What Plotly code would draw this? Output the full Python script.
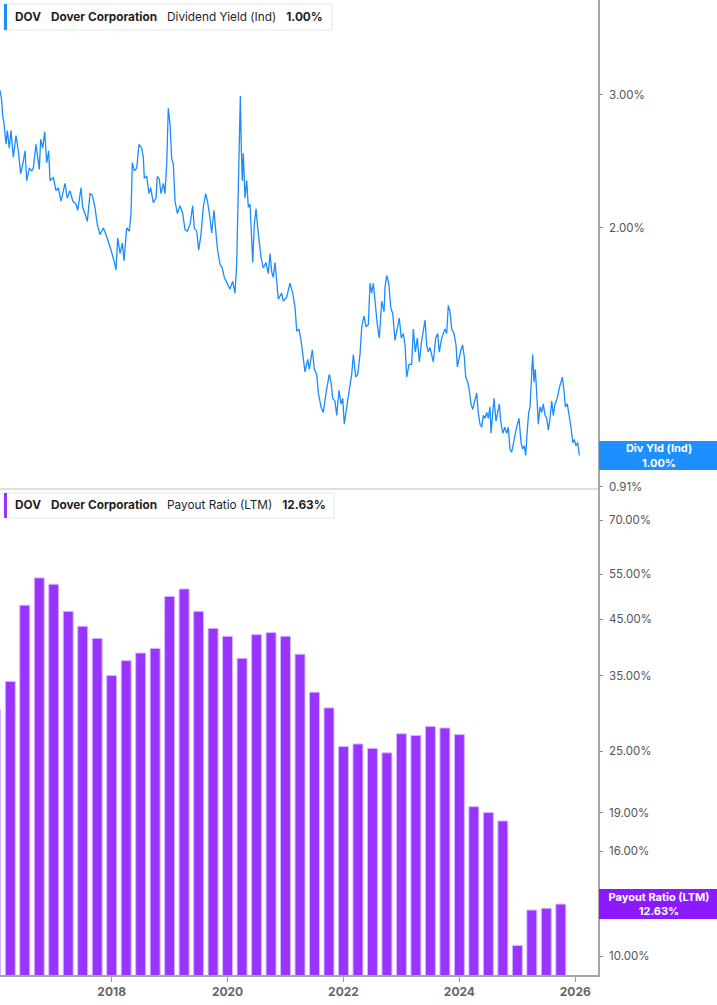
import math
import plotly.graph_objects as go
from plotly.subplots import make_subplots

# Dividend Yield (Ind), %, x in decimal years
yield_t = [
    2016.073, 2016.102, 2016.120, 2016.142, 2016.177, 2016.199, 2016.233, 2016.263, 2016.303, 2016.349,
    2016.389, 2016.430, 2016.475, 2016.504, 2016.534, 2016.579, 2016.620, 2016.648, 2016.694, 2016.717,
    2016.751, 2016.775, 2016.810, 2016.844, 2016.879, 2016.913, 2016.936, 2016.993, 2017.039, 2017.079,
    2017.126, 2017.195, 2017.234, 2017.281, 2017.328, 2017.385, 2017.414, 2017.471, 2017.500, 2017.540,
    2017.580, 2017.626, 2017.666, 2017.712, 2017.752, 2017.799, 2017.856, 2017.902, 2017.942, 2017.988,
    2018.040, 2018.075, 2018.104, 2018.144, 2018.183, 2018.213, 2018.259, 2018.304, 2018.334, 2018.356,
    2018.391, 2018.432, 2018.472, 2018.518, 2018.546, 2018.563, 2018.604, 2018.644, 2018.673, 2018.718,
    2018.765, 2018.787, 2018.822, 2018.851, 2018.891, 2018.920, 2018.950, 2018.977, 2019.006, 2019.036,
    2019.064, 2019.093, 2019.133, 2019.179, 2019.226, 2019.265, 2019.305, 2019.352, 2019.398, 2019.426,
    2019.467, 2019.502, 2019.541, 2019.581, 2019.622, 2019.657, 2019.697, 2019.726, 2019.766, 2019.795,
    2019.823, 2019.869, 2019.909, 2019.944, 2019.995, 2020.042, 2020.089, 2020.128, 2020.157, 2020.185,
    2020.209, 2020.220, 2020.237, 2020.254, 2020.271, 2020.301, 2020.330, 2020.358, 2020.387, 2020.404,
    2020.434, 2020.461, 2020.491, 2020.520, 2020.547, 2020.577, 2020.617, 2020.663, 2020.703, 2020.732,
    2020.762, 2020.789, 2020.819, 2020.848, 2020.875, 2020.934, 2020.962, 2021.020, 2021.077, 2021.124,
    2021.164, 2021.193, 2021.233, 2021.267, 2021.307, 2021.336, 2021.383, 2021.410, 2021.462, 2021.497,
    2021.538, 2021.566, 2021.612, 2021.652, 2021.699, 2021.755, 2021.785, 2021.814, 2021.854, 2021.883,
    2021.923, 2021.957, 2021.987, 2022.014, 2022.056, 2022.101, 2022.142, 2022.170, 2022.211, 2022.246,
    2022.285, 2022.315, 2022.354, 2022.389, 2022.429, 2022.458, 2022.487, 2022.515, 2022.544, 2022.584,
    2022.618, 2022.660, 2022.700, 2022.717, 2022.746, 2022.781, 2022.815, 2022.850, 2022.889, 2022.929,
    2022.963, 2022.998, 2023.033, 2023.062, 2023.091, 2023.131, 2023.177, 2023.205, 2023.240, 2023.274,
    2023.309, 2023.350, 2023.378, 2023.407, 2023.436, 2023.464, 2023.493, 2023.522, 2023.550, 2023.592,
    2023.626, 2023.653, 2023.695, 2023.723, 2023.752, 2023.781, 2023.809, 2023.838, 2023.868, 2023.907,
    2023.942, 2023.964, 2023.999, 2024.028, 2024.057, 2024.085, 2024.109, 2024.144, 2024.171, 2024.201,
    2024.230, 2024.257, 2024.299, 2024.326, 2024.356, 2024.385, 2024.413, 2024.442, 2024.471, 2024.499,
    2024.528, 2024.546, 2024.575, 2024.597, 2024.632, 2024.654, 2024.689, 2024.713, 2024.748, 2024.782,
    2024.817, 2024.844, 2024.873, 2024.903, 2024.931, 2024.965, 2024.989, 2025.029, 2025.064, 2025.093,
    2025.120, 2025.144, 2025.172, 2025.196, 2025.219, 2025.241, 2025.265, 2025.288, 2025.310, 2025.334,
    2025.362, 2025.391, 2025.421, 2025.448, 2025.478, 2025.507, 2025.535, 2025.564, 2025.593, 2025.621,
    2025.650, 2025.690, 2025.724, 2025.754, 2025.776, 2025.805, 2025.828, 2025.862, 2025.897, 2025.926,
    2025.956, 2025.983, 2026.013, 2026.042, 2026.070,
]
yield_pct = [
    3.04, 2.95, 2.81, 2.75, 2.58, 2.69, 2.55, 2.69, 2.48, 2.65,
    2.53, 2.36, 2.45, 2.53, 2.31, 2.40, 2.38, 2.40, 2.58, 2.48,
    2.39, 2.62, 2.55, 2.68, 2.44, 2.53, 2.31, 2.33, 2.24, 2.26,
    2.17, 2.29, 2.19, 2.24, 2.17, 2.15, 2.11, 2.26, 2.13, 2.09,
    2.04, 2.22, 2.21, 2.13, 2.02, 1.96, 2.00, 1.96, 1.92, 1.87,
    1.81, 1.76, 1.94, 1.85, 1.91, 1.81, 2.00, 1.98, 2.09, 2.44,
    2.38, 2.40, 2.58, 2.55, 2.48, 2.33, 2.34, 2.22, 2.26, 2.16,
    2.19, 2.34, 2.32, 2.22, 2.29, 2.22, 2.43, 2.88, 2.75, 2.47,
    2.43, 2.17, 2.09, 2.14, 2.09, 1.99, 1.98, 2.02, 2.14, 2.00,
    1.98, 1.87, 1.96, 2.13, 2.22, 2.16, 2.06, 1.97, 2.11, 1.96,
    1.88, 1.79, 1.77, 1.72, 1.69, 1.66, 1.70, 1.64, 1.79, 2.26,
    2.80, 2.99, 2.55, 2.31, 2.51, 2.19, 2.31, 2.13, 2.15, 2.03,
    1.80, 2.02, 2.12, 2.00, 1.91, 1.83, 1.77, 1.80, 1.74, 1.85,
    1.75, 1.72, 1.80, 1.69, 1.61, 1.64, 1.60, 1.62, 1.69, 1.64,
    1.57, 1.46, 1.47, 1.42, 1.33, 1.29, 1.34, 1.30, 1.38, 1.30,
    1.28, 1.21, 1.16, 1.14, 1.21, 1.28, 1.25, 1.19, 1.18, 1.13,
    1.22, 1.17, 1.19, 1.10, 1.16, 1.22, 1.28, 1.36, 1.27, 1.28,
    1.36, 1.48, 1.53, 1.48, 1.49, 1.69, 1.64, 1.69, 1.59, 1.49,
    1.43, 1.60, 1.55, 1.67, 1.73, 1.69, 1.57, 1.54, 1.42, 1.47,
    1.52, 1.43, 1.45, 1.40, 1.27, 1.32, 1.32, 1.47, 1.37, 1.43,
    1.33, 1.42, 1.46, 1.51, 1.40, 1.37, 1.39, 1.36, 1.33, 1.43,
    1.45, 1.37, 1.43, 1.45, 1.47, 1.45, 1.58, 1.55, 1.47, 1.45,
    1.40, 1.31, 1.35, 1.38, 1.40, 1.35, 1.27, 1.25, 1.22, 1.17,
    1.15, 1.17, 1.21, 1.14, 1.10, 1.09, 1.13, 1.12, 1.14, 1.12,
    1.16, 1.07, 1.14, 1.19, 1.11, 1.13, 1.17, 1.11, 1.07, 1.09,
    1.07, 1.09, 1.02, 1.01, 1.04, 1.07, 1.09, 1.12, 1.04, 1.02,
    1.03, 1.00, 1.08, 1.14, 1.16, 1.24, 1.36, 1.25, 1.30, 1.21,
    1.10, 1.16, 1.14, 1.17, 1.13, 1.12, 1.08, 1.12, 1.18, 1.13,
    1.17, 1.19, 1.23, 1.25, 1.27, 1.22, 1.16, 1.17, 1.13, 1.09,
    1.04, 1.05, 1.03, 1.04, 1.00,
]

# Payout Ratio (LTM), % -- one bar per quarter end (2015 Q4 .. 2025 Q3)
payout_t = [
    2015.997, 2016.25, 2016.50, 2016.75, 2017.00, 2017.25, 2017.50, 2017.75,
    2018.00, 2018.25, 2018.50, 2018.75, 2019.00, 2019.25, 2019.50, 2019.75,
    2020.00, 2020.25, 2020.50, 2020.75, 2021.00, 2021.25, 2021.50, 2021.75,
    2022.00, 2022.25, 2022.50, 2022.75, 2023.00, 2023.25, 2023.50, 2023.75,
    2024.00, 2024.25, 2024.50, 2024.75, 2025.00, 2025.25, 2025.50, 2025.75,
]
payout_pct = [
    30.0, 34.1, 47.9, 54.1, 52.6, 46.6, 43.6, 41.3,
    35.0, 37.4, 38.7, 39.5, 49.8, 51.5, 46.6, 43.2,
    41.7, 37.8, 42.0, 42.4, 41.7, 38.5, 32.5, 30.3,
    25.5, 25.8, 25.3, 24.8, 27.0, 26.8, 27.9, 27.7,
    26.9, 19.5, 19.0, 18.3, 10.5, 12.3, 12.4, 12.63,
]

yield_ticks = [0.91, 1.00, 2.00, 3.00]
payout_ticks = [10, 13, 16, 19, 25, 35, 45, 55, 70]
year_ticks = [2018, 2020, 2022, 2024, 2026]

W, H = 717, 1005
AXIS_X = 598      # where the right-hand value axis sits
BOTTOM = 30       # strip under the plot for the year labels
PLOT_H = H - BOTTOM

BLUE = "#1a8cff"
PURPLE = "#9933ff"
TAG_BLUE = "#1e8fff"
TAG_PURPLE = "#8c1aff"
FONT = "Inter"


def px(x):
    return x / W


def py(y):
    return 1 - y / PLOT_H


fig = make_subplots(rows=2, cols=1, shared_xaxes=True, vertical_spacing=0)

fig.add_trace(go.Scatter(x=yield_t, y=yield_pct, mode="lines",
                         line=dict(color=BLUE, width=1.3), hoverinfo="skip"),
              row=1, col=1)

fig.add_trace(go.Bar(x=payout_t, y=payout_pct, width=0.172,
                     marker=dict(color=PURPLE, line=dict(color="#d6b8ff", width=1)),
                     hoverinfo="skip"),
              row=2, col=1)

fig.update_xaxes(range=[2016.073, 2026.392], domain=[0, AXIS_X / W],
                 showgrid=False, zeroline=False)
fig.update_xaxes(row=1, col=1, showticklabels=False, ticks="",
                 showline=True, linecolor="#dedede", linewidth=2)
fig.update_xaxes(row=2, col=1, tickvals=year_ticks, ticktext=[str(y) for y in year_ticks],
                 ticks="outside", ticklen=5, tickcolor="#999",
                 showline=True, linecolor="#a6a6a6", linewidth=1.5,
                 tickfont=dict(family=FONT, size=12, color="#666", weight="bold"))

yaxis_style = dict(type="log", side="right", showgrid=False, zeroline=False,
                   showline=True, linecolor="#a6a6a6", linewidth=1.5,
                   ticks="outside", ticklen=3, tickcolor="#888",
                   ticklabelstandoff=4,
                   tickfont=dict(family=FONT, size=11.5, color="#555"))
fig.update_yaxes(row=1, col=1, range=[-0.0423, 0.6025], tickvals=yield_ticks,
                 ticktext=[f"{v:.2f}%" for v in yield_ticks], **yaxis_style)
fig.update_yaxes(row=2, col=1, range=[0.9641, 1.9083], tickvals=payout_ticks,
                 ticktext=[f"{v:.2f}%" for v in payout_ticks], **yaxis_style)

# header boxes in the top-left corner of each panel
sp = "\u00a0\u00a0\u00a0"
headers = [
    (4, 332, 4, 30, BLUE, f"<b>DOV</b>{sp}<b>Dover Corporation</b>{sp}Dividend Yield (Ind){sp}<b>{yield_pct[-1]:.2f}%</b>"),
    (4, 334, 493, 518, PURPLE, f"<b>DOV</b>{sp}<b>Dover Corporation</b>{sp}Payout Ratio (LTM){sp}<b>{payout_pct[-1]:.2f}%</b>"),
]
for x0, x1, y0, y1, color, text in headers:
    fig.add_shape(type="rect", xref="paper", yref="paper",
                  x0=px(x0), x1=px(x1), y0=py(y1), y1=py(y0),
                  fillcolor="white", line=dict(color="#e6e6e6", width=1), layer="above")
    fig.add_shape(type="rect", xref="paper", yref="paper",
                  x0=px(x0), x1=px(x0 + 3), y0=py(y1), y1=py(y0),
                  fillcolor=color, line=dict(width=0), layer="above")
    fig.add_annotation(xref="paper", yref="paper", x=px(13), y=py((y0 + y1) / 2),
                       xanchor="left", yanchor="middle", showarrow=False, text=text,
                       font=dict(family=FONT, size=11.8, color="#1f1f1f"))

# last-value tags on the right axis
tags = [
    ("y", yield_pct[-1], TAG_BLUE, f"<b>Div Yld (Ind)<br>{yield_pct[-1]:.2f}%</b>", 25),
    ("y2", payout_pct[-1], TAG_PURPLE, f"<b>Payout Ratio (LTM)<br>{payout_pct[-1]:.2f}%</b>", 26),
]
for yref, val, color, text, h in tags:
    fig.add_annotation(xref="paper", yref=yref, x=px(AXIS_X + 1), y=math.log10(val),
                       xanchor="left", yanchor="middle", showarrow=False, text=text,
                       align="center", width=W - AXIS_X - 3, height=h,
                       bgcolor=color, borderpad=2, borderwidth=0,
                       font=dict(family=FONT, size=11, color="white"))

fig.update_layout(
    width=W, height=H,
    margin=dict(l=0, r=0, t=0, b=BOTTOM),
    plot_bgcolor="white", paper_bgcolor="white",
    showlegend=False,
    font=dict(family=FONT),
)

fig.write_html("out.html", config={"displayModeBar": False},
               post_script="document.body.style.margin = '0';")
